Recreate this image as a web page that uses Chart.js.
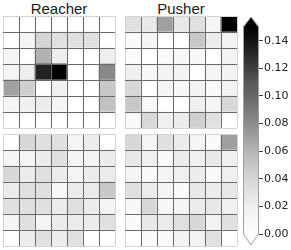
<!DOCTYPE html>
<html>
<head>
<meta charset="utf-8">
<script src="https://cdn.jsdelivr.net/npm/chart.js@4"></script>
<style>
body { margin: 0; width: 291px; height: 250px; background: #fff; position: relative; overflow: hidden; }
canvas { position: absolute; }
.title { position: absolute; width: 112px; text-align: center; font: 15px "Liberation Sans", Arial, sans-serif; line-height: 15px; color: #1a1a1a; }
</style>
</head>
<body>
<div class="title" style="left:3px; top:1px">Reacher</div>
<div class="title" style="left:125px; top:1px">Pusher</div>
<canvas id="reacherTop" width="113" height="113" style="left:3px; top:16px"></canvas>
<canvas id="pusherTop" width="113" height="113" style="left:125px; top:16px"></canvas>
<canvas id="reacherBottom" width="113" height="113" style="left:3px; top:134px"></canvas>
<canvas id="pusherBottom" width="113" height="113" style="left:125px; top:134px"></canvas>
<canvas id="colorbar" width="51" height="250" style="left:240px; top:0px"></canvas>
<script>
// heatmap values, rows top to bottom, columns left to right
var columns = ['0', '1', '2', '3', '4', '5', '6'];

var reacherTop = [
    [0, 0, 0, 0, 0, 0, 0],
    [0, 0.0125, 0.040, 0.032, 0.032, 0.032, 0],
    [0.0125, 0, 0.062, 0.020, 0, 0, 0.020],
    [0.0125, 0.020, 0.133, 0.150, 0, 0, 0.082],
    [0.070, 0.044, 0, 0.019, 0, 0, 0.049],
    [0.0125, 0.019, 0.022, 0.0125, 0, 0, 0.053],
    [0, 0, 0, 0, 0, 0, 0]
];

var pusherTop = [
    [0.032, 0.025, 0.070, 0.025, 0.032, 0.0125, 0.150],
    [0.006, 0.0125, 0, 0, 0.049, 0.022, 0.015],
    [0.004, 0, 0.006, 0.009, 0.009, 0, 0.015],
    [0.019, 0.009, 0.015, 0.015, 0, 0.0125, 0.015],
    [0.038, 0, 0.0125, 0.009, 0.015, 0.006, 0.015],
    [0.049, 0.009, 0, 0, 0.019, 0.0125, 0.038],
    [0.006, 0.038, 0.019, 0.022, 0.044, 0.032, 0]
];

var reacherBottom = [
    [0, 0.038, 0.032, 0.032, 0.0125, 0.022, 0],
    [0.0125, 0.0125, 0.022, 0.032, 0.0125, 0.0125, 0.022],
    [0.038, 0.022, 0.032, 0.022, 0.0125, 0.022, 0.022],
    [0.022, 0.032, 0.032, 0.009, 0.022, 0.022, 0.049],
    [0.032, 0.032, 0.032, 0.022, 0.032, 0.022, 0.0125],
    [0.0125, 0.032, 0.0125, 0.022, 0.022, 0.022, 0.032],
    [0, 0.022, 0.032, 0.022, 0.032, 0, 0]
];

var pusherBottom = [
    [0.038, 0.0125, 0.032, 0.022, 0.0125, 0.006, 0.070],
    [0.025, 0.019, 0.006, 0.022, 0.019, 0.025, 0.019],
    [0.0125, 0.006, 0.0125, 0.019, 0.022, 0.006, 0.019],
    [0.032, 0.022, 0.0125, 0.006, 0.025, 0.022, 0.025],
    [0.009, 0.038, 0.009, 0.0125, 0.022, 0.025, 0.019],
    [0.006, 0.025, 0.022, 0.032, 0.038, 0.015, 0.032],
    [0, 0.006, 0.006, 0.015, 0.015, 0.032, 0]
];

var colorMin = 0;
var colorMax = 0.15;
var barTicks = [0, 0.02, 0.04, 0.06, 0.08, 0.10, 0.12, 0.14];

// matplotlib "Greys"
var greys = ['#ffffff', '#f0f0f0', '#d9d9d9', '#bdbdbd', '#969696', '#737373', '#525252', '#252525', '#000000'];

function hexToRgb(h) {
    return [parseInt(h.substr(1, 2), 16), parseInt(h.substr(3, 2), 16), parseInt(h.substr(5, 2), 16)];
}

function greyFor(v) {
    var t = (v - colorMin) / (colorMax - colorMin);
    t = Math.max(0, Math.min(1, t));
    var pos = t * (greys.length - 1);
    var i = Math.min(Math.floor(pos), greys.length - 2);
    var f = pos - i;
    var a = hexToRgb(greys[i]), b = hexToRgb(greys[i + 1]);
    var c = a.map(function (x, k) { return Math.round(x + (b[k] - x) * f); });
    return 'rgb(' + c.join(',') + ')';
}

var innerLine = '#6a6a6a';
var outerLine = '#d4d4d4';

function heatmap(id, rows) {
    // one stacked dataset per row, bottom row first
    var datasets = [];
    for (var r = rows.length - 1; r >= 0; r--) {
        datasets.push({
            data: rows[r].map(function () { return 1; }),
            backgroundColor: rows[r].map(greyFor),
            borderWidth: 0,
            barPercentage: 1,
            categoryPercentage: 1
        });
    }
    return new Chart(document.getElementById(id), {
        type: 'bar',
        data: { labels: columns, datasets: datasets },
        options: {
            responsive: false,
            animation: false,
            layout: { padding: { left: 0, top: 0, right: 1, bottom: 1 } },
            plugins: { legend: { display: false }, tooltip: { enabled: false } },
            scales: {
                x: {
                    stacked: true,
                    ticks: { display: false },
                    border: { display: false },
                    grid: {
                        z: 1,
                        offset: true,
                        drawTicks: false,
                        lineWidth: 1,
                        color: function (c) {
                            return (c.index === 0 || c.index === undefined) ? outerLine : innerLine;
                        }
                    }
                },
                y: {
                    stacked: true,
                    min: 0,
                    max: rows.length,
                    ticks: { display: false, stepSize: 1 },
                    border: { display: false },
                    grid: {
                        z: 1,
                        drawTicks: false,
                        lineWidth: 1,
                        color: function (c) {
                            var v = c.tick ? c.tick.value : 0;
                            return (v === 0 || v === rows.length) ? outerLine : innerLine;
                        }
                    }
                }
            }
        }
    });
}

heatmap('reacherTop', reacherTop);
heatmap('pusherTop', pusherTop);
heatmap('reacherBottom', reacherBottom);
heatmap('pusherBottom', pusherBottom);

// colorbar with extend arrows
var extendArrows = {
    id: 'extendArrows',
    afterDatasetsDraw: function (chart) {
        var a = chart.chartArea, ctx = chart.ctx;
        var mid = (a.left + a.right) / 2;
        ctx.save();
        ctx.beginPath();
        ctx.moveTo(a.left, a.top);
        ctx.lineTo(mid, a.top - 10);
        ctx.lineTo(a.right, a.top);
        ctx.closePath();
        ctx.fillStyle = greys[greys.length - 1];
        ctx.fill();
        ctx.beginPath();
        ctx.moveTo(a.left, a.bottom);
        ctx.lineTo(mid, a.bottom + 11);
        ctx.lineTo(a.right, a.bottom);
        ctx.closePath();
        ctx.fillStyle = greys[0];
        ctx.fill();
        ctx.beginPath();
        ctx.moveTo(a.left + 0.5, a.top);
        ctx.lineTo(mid, a.top - 10);
        ctx.lineTo(a.right - 0.5, a.top);
        ctx.lineTo(a.right - 0.5, a.bottom);
        ctx.lineTo(mid, a.bottom + 11);
        ctx.lineTo(a.left + 0.5, a.bottom);
        ctx.closePath();
        ctx.strokeStyle = '#a0a0a0';
        ctx.lineWidth = 1;
        ctx.stroke();
        ctx.restore();
    }
};

new Chart(document.getElementById('colorbar'), {
    type: 'bar',
    data: {
        labels: ['scale'],
        datasets: [{
            data: [[colorMin, colorMax]],
            borderWidth: 0,
            barPercentage: 1,
            categoryPercentage: 1,
            backgroundColor: function (c) {
                var chart = c.chart;
                if (!chart.chartArea) return '#888';
                var y = chart.scales.y;
                var g = chart.ctx.createLinearGradient(0, y.getPixelForValue(colorMin), 0, y.getPixelForValue(colorMax));
                greys.forEach(function (col, i) { g.addColorStop(i / (greys.length - 1), col); });
                return g;
            }
        }]
    },
    plugins: [extendArrows],
    options: {
        responsive: false,
        animation: false,
        layout: { padding: { left: 3, top: 27, right: 0, bottom: 16 } },
        plugins: { legend: { display: false }, tooltip: { enabled: false } },
        scales: {
            x: { display: false },
            y: {
                position: 'right',
                min: colorMin,
                max: colorMax,
                afterBuildTicks: function (s) { s.ticks = barTicks.map(function (v) { return { value: v }; }); },
                afterFit: function (s) { s.width = 32; },
                border: { display: false },
                grid: { drawOnChartArea: false, drawTicks: true, tickLength: 4, color: '#444' },
                ticks: {
                    padding: 1,
                    color: '#222',
                    font: { family: 'DejaVu Sans', size: 11 },
                    callback: function (v) { return Number(v).toFixed(2); }
                }
            }
        }
    }
});
</script>
</body>
</html>
